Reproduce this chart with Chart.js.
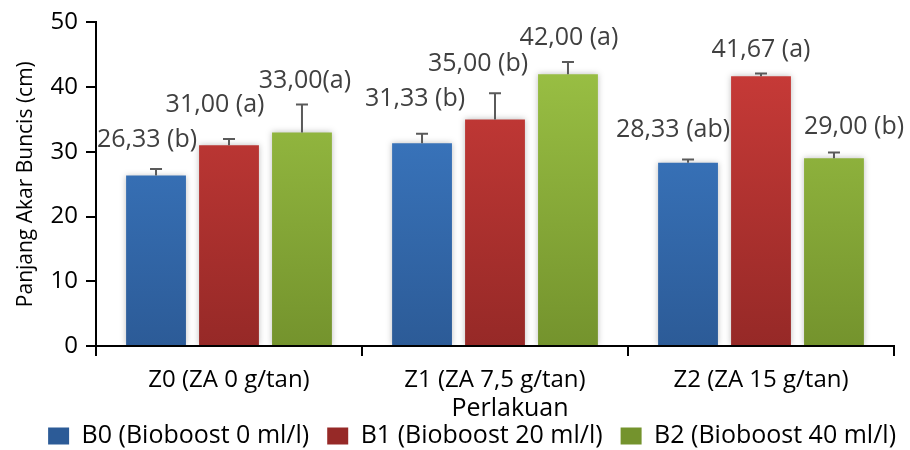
<!DOCTYPE html>
<html>
<head>
<meta charset="utf-8">
<script src="https://cdn.jsdelivr.net/npm/chart.js@4.4.1/dist/chart.umd.min.js"></script>
<style>
  html, body { margin: 0; padding: 0; background: #fff; }
  #wrap { width: 910px; height: 450px; }
</style>
</head>
<body>
<div id="wrap"><canvas id="akarChart"></canvas></div>
<script>
// data
const categories = ['Z0 (ZA 0 g/tan)', 'Z1 (ZA 7,5 g/tan)', 'Z2 (ZA 15 g/tan)'];
const seriesNames = ['B0 (Bioboost 0 ml/l)', 'B1 (Bioboost 20 ml/l)', 'B2 (Bioboost 40 ml/l)'];
const b0Values = [26.33, 31.33, 28.33];
const b1Values = [31.00, 35.00, 41.67];
const b2Values = [33.00, 42.00, 29.00];
const b0Errors = [1.0, 1.45, 0.5];
const b1Errors = [1.0, 4.05, 0.45];
const b2Errors = [4.3, 1.9, 0.9];
const b0Labels = ['26,33 (b)', '31,33 (b)', '28,33 (ab)'];
const b1Labels = ['31,00 (a)', '35,00 (b)', '41,67 (a)'];
const b2Labels = ['33,00(a)', '42,00 (a)', '29,00 (b)'];
const yTicks = [0, 10, 20, 30, 40, 50];
const xTitle = 'Perlakuan';

const FONT = "'Open Sans', 'Noto Sans', sans-serif";

const BAR_COLORS = [
  { top: '#3f80cd', bottom: '#2c5b97', flat: '#3a74bd' },
  { top: '#cf3d3a', bottom: '#962927', flat: '#c0393a' },
  { top: '#9fc647', bottom: '#74932d', flat: '#8fb33d' },
];

function barFill(i) {
  return (ctx) => {
    const area = ctx.chart.chartArea;
    if (!area) return BAR_COLORS[i].flat;
    const g = ctx.chart.ctx.createLinearGradient(0, area.top, 0, area.bottom);
    g.addColorStop(0, BAR_COLORS[i].top);
    g.addColorStop(1, BAR_COLORS[i].bottom);
    return g;
  };
}

// label nudges so the letters sit like in the original figure (px)
const LABEL_NUDGE = [
  [[-9, -5], [-7, -11], [-15, -6]],
  [[-14, -10], [-17, -5], [0, 0]],
  [[3, 0], [1, 0], [20, -2]],
];

const errorBarPlugin = {
  id: 'errorBars',
  afterLayout(chart) {
    // push the legend a bit right, as in the original
    chart.legend.left += 20;
    chart.legend.right += 20;
  },
  beforeDatasetDraw(chart) {
    const c = chart.ctx;
    c.save();
    c.shadowColor = 'rgba(0,0,0,0.25)';
    c.shadowBlur = 6;
    c.shadowOffsetX = 0;
    c.shadowOffsetY = 0;
  },
  afterDatasetDraw(chart) {
    chart.ctx.restore();
  },
  afterDatasetsDraw(chart) {
    const c = chart.ctx;
    const y = chart.scales.y;
    chart.data.datasets.forEach((ds, di) => {
      const meta = chart.getDatasetMeta(di);
      meta.data.forEach((bar, i) => {
        const top = y.getPixelForValue(ds.data[i] + ds.errors[i]);
        c.save();
        c.strokeStyle = '#5a5a5a';
        c.lineWidth = 2;
        c.beginPath();
        c.moveTo(bar.x, bar.y);
        c.lineTo(bar.x, top);
        c.moveTo(bar.x - 6, top);
        c.lineTo(bar.x + 6, top);
        c.stroke();

        const n = LABEL_NUDGE[di][i];
        c.fillStyle = '#404040';
        c.font = '25px ' + FONT;
        c.textAlign = 'center';
        c.textBaseline = 'middle';
        c.fillText(ds.labels[i], bar.x + n[0], top - 24 + n[1]);
        c.restore();
      });
    });

    // x axis title, sits a little right of centre in the original
    const x = chart.scales.x;
    c.save();
    c.fillStyle = '#000';
    c.font = '25px ' + FONT;
    c.textAlign = 'center';
    c.textBaseline = 'middle';
    c.fillText(xTitle, (x.left + x.right) / 2 + 15, x.top + 63);
    c.restore();
  }
};

const datasets = [
  { values: b0Values, errors: b0Errors, labels: b0Labels },
  { values: b1Values, errors: b1Errors, labels: b1Labels },
  { values: b2Values, errors: b2Errors, labels: b2Labels },
].map((s, i) => ({
  label: seriesNames[i],
  data: s.values,
  errors: s.errors,
  labels: s.labels,
  backgroundColor: barFill(i),
  borderWidth: 0,
  categoryPercentage: 0.823,
  barPercentage: 0.82,
}));

new Chart(document.getElementById('akarChart').getContext('2d'), {
  type: 'bar',
  data: { labels: categories, datasets },
  options: {
    responsive: true,
    maintainAspectRatio: false,
    animation: false,
    layout: { padding: { top: 16, right: 16, left: 0, bottom: -8.5 } },
    plugins: {
      legend: {
        position: 'bottom',
        align: 'end',
        labels: {
          color: '#000',
          font: { family: FONT, size: 25 },
          boxWidth: 21,
          boxHeight: 17,
          padding: 18,
        }
      },
      tooltip: { enabled: false },
    },
    scales: {
      x: {
        offset: true,
        afterFit: (scale) => { scale.height = 59.5; },
        grid: { offset: true, drawOnChartArea: false, tickLength: 10, color: '#000', lineWidth: 2 },
        border: { color: '#000', width: 2 },
        ticks: { color: '#000', font: { family: FONT, size: 24 }, padding: 10 },
      },
      y: {
        min: 0,
        max: 50,
        afterBuildTicks: (scale) => { scale.ticks = yTicks.map(v => ({ value: v })); },
        afterFit: (scale) => { scale.width = 96; },
        grid: { drawOnChartArea: false, tickLength: 10, color: '#000', lineWidth: 2 },
        border: { color: '#000', width: 2 },
        ticks: { color: '#000', font: { family: FONT, size: 24 }, padding: 8 },
        title: {
          display: true,
          text: 'Panjang Akar Buncis (cm)',
          color: '#000',
          font: { family: FONT, size: 21 },
          padding: { top: 13, bottom: 0 },
        },
      },
    },
  },
  plugins: [errorBarPlugin],
});
</script>
</body>
</html>
